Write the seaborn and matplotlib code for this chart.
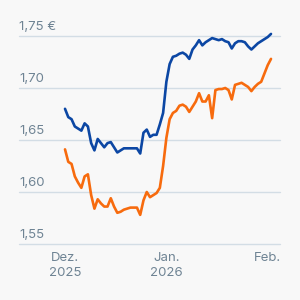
import pandas as pd
import seaborn as sns
import matplotlib.pyplot as plt

start = "2025-12-01"

blue_vals = [1.680, 1.672, 1.670, 1.663, 1.661, 1.659, 1.666, 1.663, 1.647, 1.640,
             1.651, 1.647, 1.643, 1.647, 1.648, 1.643, 1.638, 1.640, 1.642, 1.642,
             1.642, 1.642, 1.642, 1.637, 1.657, 1.660, 1.653, 1.655, 1.655, 1.665,
             1.676, 1.706, 1.723, 1.730, 1.731, 1.733, 1.734, 1.732, 1.728, 1.737,
             1.741, 1.746, 1.741, 1.744, 1.746, 1.748, 1.747, 1.746, 1.747, 1.745,
             1.744, 1.738, 1.743, 1.745, 1.745, 1.744, 1.740, 1.737, 1.740, 1.743,
             1.745, 1.747, 1.749, 1.752]

orange_vals = [1.641, 1.629, 1.627, 1.615, 1.609, 1.604, 1.615, 1.617, 1.597, 1.584,
               1.593, 1.589, 1.586, 1.586, 1.594, 1.586, 1.580, 1.581, 1.583, 1.584,
               1.585, 1.585, 1.585, 1.578, 1.592, 1.600, 1.595, 1.597, 1.599, 1.604,
               1.625, 1.652, 1.670, 1.676, 1.678, 1.683, 1.684, 1.682, 1.677, 1.682,
               1.687, 1.695, 1.687, 1.687, 1.693, 1.671, 1.698, 1.699, 1.699, 1.700,
               1.698, 1.689, 1.703, 1.704, 1.705, 1.703, 1.701, 1.697, 1.701, 1.704,
               1.706, 1.714, 1.722, 1.728]

y_ticks = [1.55, 1.60, 1.65, 1.70, 1.75]
y_labels = ["1,55", "1,60", "1,65", "1,70", "1,75 €"]
x_ticks = ["2025-12-01", "2026-01-01", "2026-02-01"]
x_labels = ["Dez.\n2025", "Jan.\n2026", "Feb."]

dates = pd.date_range(start, periods=len(blue_vals), freq="D")
df = pd.concat([
    pd.DataFrame({"date": dates, "price": blue_vals, "series": "blue"}),
    pd.DataFrame({"date": dates, "price": orange_vals, "series": "orange"}),
])

sns.set_theme(style="white")
plt.rcParams["font.family"] = ["Inter", "DejaVu Sans"]
text_col = "#6f8494"
bg = "#f8f8f8"

fig = plt.figure(figsize=(3, 3), dpi=100, facecolor=bg)
ax = fig.add_axes([19 / 300, 1 - 244 / 300, 261 / 300, 223.6 / 300])
ax.set_facecolor(bg)

sns.lineplot(data=df, x="date", y="price", hue="series",
             palette={"blue": "#0c47a4", "orange": "#f76b0e"},
             linewidth=1.9, legend=False, ax=ax)

t0 = pd.Timestamp(start)
ax.set_xlim(t0 - pd.Timedelta(days=14.07), t0 + pd.Timedelta(days=65.75))
ax.set_ylim(1.55, 1.765)

ax.set_yticks(y_ticks)
ax.set_yticklabels([])
ax.tick_params(axis="y", length=0)
ax.grid(axis="y", color="#d3dde5", linewidth=1.0)
for gl in ax.get_ygridlines():
    gl.set_clip_on(False)
for v, lab in zip(y_ticks, y_labels):
    ax.annotate(lab, xy=(0, v), xycoords=ax.get_yaxis_transform(),
                xytext=(0, 2.5), textcoords="offset points",
                ha="left", va="bottom", fontsize=9.5, color=text_col)

ax.set_xticks(pd.to_datetime(x_ticks))
ax.set_xticklabels(x_labels, fontsize=9.5, color=text_col, linespacing=1.3)
ax.tick_params(axis="x", length=0, pad=6)
ax.set_xlabel("")
ax.set_ylabel("")
sns.despine(ax=ax, left=True, bottom=True)

fig.savefig("out.png", dpi=100, facecolor=bg)
